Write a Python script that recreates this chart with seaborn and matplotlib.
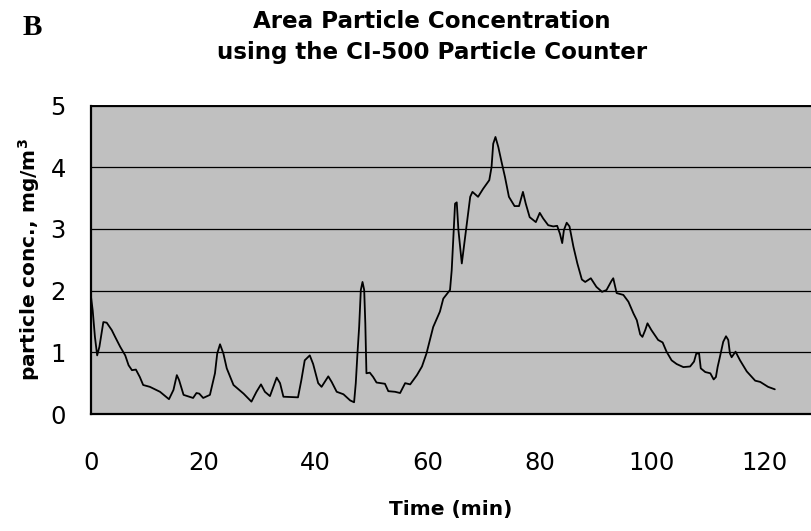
import matplotlib
matplotlib.use("Agg")
import matplotlib.pyplot as plt
import seaborn as sns
import pandas as pd

# ---- data ----
minutes = [
    0.0, 0.3, 0.7, 1.1, 1.5, 2.2, 2.8, 3.7, 4.3, 5.2,
    6.1, 6.7, 7.3, 8.0, 8.7, 9.3, 10.5, 12.3, 13.9, 14.7,
    15.3, 15.7, 16.5, 18.2, 18.8, 19.3, 20.0, 21.2, 22.1, 22.5,
    23.0, 23.6, 24.2, 25.4, 27.2, 28.6, 29.5, 30.3, 31.0, 31.9,
    33.1, 33.7, 34.3, 36.9, 37.5, 38.1, 39.0, 39.6, 40.5, 41.1,
    42.3, 42.9, 43.8, 45.0, 46.2, 46.9, 47.2, 47.5, 47.8, 48.1,
    48.4, 48.7, 48.9, 49.1, 49.7, 50.3, 50.9, 52.4, 53.0, 54.2,
    55.1, 56.0, 56.9, 58.1, 59.0, 59.8, 61.0, 62.2, 62.8, 64.0,
    64.3, 64.6, 64.9, 65.2, 65.5, 66.1, 66.7, 67.0, 67.6, 68.0,
    69.0, 69.9, 71.0, 71.4, 71.7, 72.1, 72.6, 73.2, 73.8, 74.5,
    75.5, 76.3, 77.0, 77.5, 78.2, 79.3, 80.0, 80.6, 81.5, 82.4,
    83.1, 83.6, 84.0, 84.3, 84.8, 85.3, 86.0, 86.7, 87.5, 88.1,
    89.1, 90.1, 91.1, 91.9, 92.8, 93.1, 93.7, 94.9, 95.8, 96.7,
    97.3, 97.9, 98.3, 98.8, 99.2, 99.9, 101.1, 101.9, 102.6, 103.5,
    104.4, 105.6, 106.8, 107.5, 107.9, 108.4, 108.7, 109.5, 110.4, 111.0,
    111.4, 111.7, 112.1, 112.7, 113.2, 113.6, 113.9, 114.2, 114.9, 115.7,
    116.9, 118.4, 119.3, 120.7, 121.9,
]
concentration = [
    1.90, 1.68, 1.25, 0.95, 1.09, 1.49, 1.48, 1.36, 1.25, 1.09,
    0.95, 0.79, 0.71, 0.72, 0.60, 0.47, 0.44, 0.36, 0.24, 0.39,
    0.63, 0.55, 0.31, 0.26, 0.34, 0.33, 0.26, 0.31, 0.66, 0.98,
    1.13, 0.98, 0.74, 0.47, 0.33, 0.20, 0.36, 0.48, 0.36, 0.29,
    0.59, 0.50, 0.28, 0.27, 0.55, 0.87, 0.95, 0.81, 0.50, 0.44,
    0.61, 0.52, 0.36, 0.32, 0.22, 0.19, 0.50, 0.98, 1.41, 2.01,
    2.14, 2.01, 1.47, 0.66, 0.67, 0.60, 0.51, 0.49, 0.37, 0.36,
    0.34, 0.50, 0.48, 0.63, 0.77, 0.98, 1.41, 1.66, 1.87, 2.01,
    2.33, 2.87, 3.41, 3.43, 2.98, 2.44, 2.87, 3.09, 3.52, 3.60,
    3.52, 3.65, 3.79, 4.00, 4.38, 4.49, 4.33, 4.08, 3.84, 3.52,
    3.37, 3.37, 3.60, 3.41, 3.19, 3.11, 3.26, 3.17, 3.06, 3.04,
    3.05, 2.92, 2.77, 2.98, 3.10, 3.04, 2.71, 2.44, 2.18, 2.14,
    2.20, 2.06, 1.98, 2.01, 2.16, 2.20, 1.96, 1.93, 1.82, 1.63,
    1.52, 1.29, 1.25, 1.36, 1.47, 1.36, 1.20, 1.16, 1.01, 0.87,
    0.81, 0.76, 0.77, 0.85, 0.98, 0.98, 0.74, 0.68, 0.66, 0.56,
    0.60, 0.76, 0.92, 1.17, 1.26, 1.20, 0.98, 0.92, 1.01, 0.87,
    0.69, 0.54, 0.52, 0.44, 0.40,
]
x_ticks = [0, 20, 40, 60, 80, 100, 120]
y_ticks = [0, 1, 2, 3, 4, 5]
title_text = "Area Particle Concentration\nusing the CI-500 Particle Counter"
x_label = "Time (min)"
y_label = "particle conc., mg/m$^{3}$"
panel_letter = "B"

df = pd.DataFrame({"minute": minutes, "conc": concentration})

sns.set_style("white")
plt.rcParams["font.family"] = ["DejaVu Sans"]
plt.rcParams["text.color"] = "black"
plt.rcParams["axes.labelcolor"] = "black"
plt.rcParams["mathtext.fontset"] = "custom"
plt.rcParams["mathtext.rm"] = "DejaVu Sans:bold"
plt.rcParams["mathtext.it"] = "DejaVu Sans:bold"
plt.rcParams["mathtext.bf"] = "DejaVu Sans:bold"

fig = plt.figure(figsize=(8.11, 5.31), dpi=100)
ax = fig.add_axes([91 / 811, 1 - 414 / 531, 1 - 91 / 811, (414 - 105.5) / 531])
ax.set_facecolor("#c0c0c0")

sns.lineplot(data=df, x="minute", y="conc", color="black", linewidth=1.3,
             sort=False, ax=ax)

ax.set_xlim(0, 128.35)
ax.set_ylim(0, 5)
ax.set_xticks(x_ticks)
ax.set_yticks(y_ticks)
ax.yaxis.grid(True, color="black", linewidth=0.9)
ax.xaxis.grid(False)
ax.set_axisbelow(True)

for side in ["left", "bottom"]:
    ax.spines[side].set_color("black")
    ax.spines[side].set_linewidth(1.6)
ax.spines["top"].set_color("black")
ax.spines["top"].set_linewidth(1.4)
ax.spines["right"].set_visible(False)

ax.tick_params(axis="both", direction="out", length=7, width=0.9,
               color="#444444", labelsize=17.5, labelcolor="black")
ax.tick_params(axis="x", pad=20)
ax.tick_params(axis="y", pad=11)

ax.set_xlabel(x_label, fontsize=14.5, fontweight="bold", labelpad=18,
              color="black")
ax.set_ylabel(y_label, fontsize=14.5, fontweight="bold", color="black")
ax.yaxis.set_label_coords(-0.068, 0.5)

fig.text(432 / 811, 1 - 10 / 531, title_text, ha="center", va="top",
         fontsize=16.6, fontweight="bold", linespacing=1.42, color="black")
fig.text(23 / 811, 1 - 14 / 531, panel_letter, ha="left", va="top",
         fontsize=21, fontweight="bold", family=["Liberation Serif"],
         color="black")

fig.savefig("out.png", dpi=100)
